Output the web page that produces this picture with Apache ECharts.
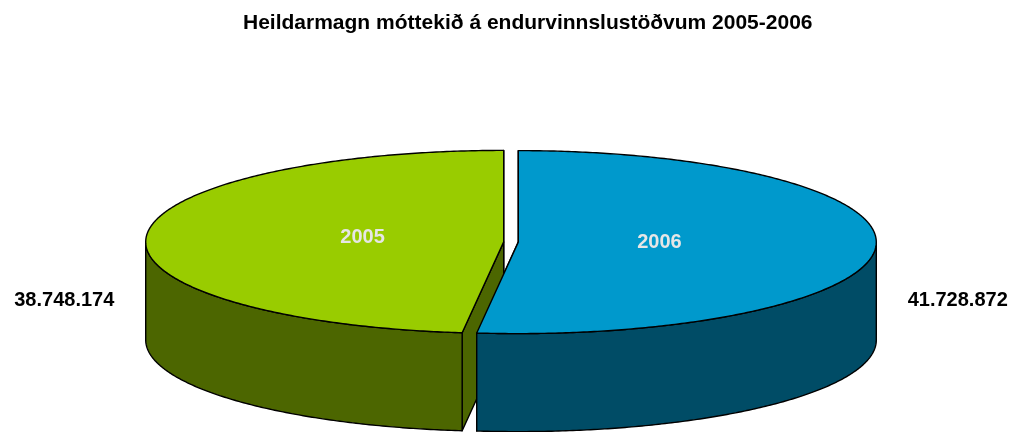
<!DOCTYPE html>
<html>
<head>
<meta charset="utf-8">
<script src="https://cdn.jsdelivr.net/npm/echarts@6/dist/echarts.min.js"></script>
<style>
  html, body { margin: 0; padding: 0; background: #fff; }
  #chart { width: 1014px; height: 432px; }
</style>
</head>
<body>
<div id="chart"></div>
<script>
// pie order: clockwise from 12 o'clock
const categories = ['2006', '2005'];
const values = [41728872, 38748174];
const topColors = ['#0099cc', '#99cc00'];
const sideColors = ['#004c66', '#4c6600'];
const titleText = 'Heildarmagn móttekið á endurvinnslustöðvum 2005-2006';

// 3d look: flat ellipse + wall
const P = { cx: 511, cy: 242, rx: 358, ry: 91.5, depth: 98, explode: 7.3 };

const total = values.reduce((a, b) => a + b, 0);
const slices = [];
let acc = 0;
values.forEach(v => {
  const a0 = acc / total * Math.PI * 2;
  acc += v;
  const a1 = acc / total * Math.PI * 2;
  slices.push({ a0: a0, a1: a1, mid: (a0 + a1) / 2 });
});

function fmt(n) {
  return String(n).replace(/\B(?=(\d{3})+(?!\d))/g, '.');
}
function center(s) {
  return [P.cx + P.explode * Math.sin(s.mid), P.cy - P.explode * P.ry / P.rx * Math.cos(s.mid)];
}
function rim(c, a, dz) {
  return [c[0] + P.rx * Math.sin(a), c[1] - P.ry * Math.cos(a) + (dz || 0)];
}
function arc(c, a0, a1, dz) {
  const n = Math.max(2, Math.ceil(Math.abs(a1 - a0) / 0.01));
  const pts = [];
  for (let k = 0; k <= n; k++) pts.push(rim(c, a0 + (a1 - a0) * k / n, dz));
  return pts;
}
const lineStyle = { stroke: '#000', lineWidth: 1.4, lineJoin: 'round' };
const FONT = 'Liberation Sans, Arial, sans-serif';

// cut faces of each slice
function renderFaces(params) {
  const i = params.dataIndex, s = slices[i], c = center(s);
  const children = [s.a0, s.a1].map(a => ({
    type: 'polygon',
    shape: { points: [c, rim(c, a), rim(c, a, P.depth), [c[0], c[1] + P.depth]] },
    style: Object.assign({ fill: sideColors[i] }, lineStyle)
  }));
  return { type: 'group', children: children };
}

// outer wall, only the front half shows
function renderWall(params) {
  const i = params.dataIndex, s = slices[i], c = center(s);
  const b0 = Math.max(s.a0, Math.PI / 2), b1 = Math.min(s.a1, Math.PI * 1.5);
  if (b1 <= b0) return { type: 'group', children: [] };
  const pts = arc(c, b0, b1, 0).concat(arc(c, b1, b0, P.depth));
  return {
    type: 'polygon',
    shape: { points: pts },
    style: Object.assign({ fill: sideColors[i] }, lineStyle)
  };
}

function renderTop(params) {
  const i = params.dataIndex, s = slices[i], c = center(s);
  const pts = [c].concat(arc(c, s.a0, s.a1, 0));
  const outer = rim(c, s.mid);
  const right = Math.sin(s.mid) > 0;
  return {
    type: 'group',
    children: [
      {
        type: 'polygon',
        shape: { points: pts },
        style: Object.assign({ fill: topColors[i] }, lineStyle)
      },
      {
        type: 'text',
        style: {
          text: categories[i],
          x: c[0] + 0.395 * P.rx * Math.sin(s.mid),
          y: c[1] - 0.395 * P.ry * Math.cos(s.mid) - 2,
          fill: '#e6e6e6',
          fontSize: 20, fontWeight: 'bold', fontFamily: FONT,
          align: 'center', verticalAlign: 'middle'
        }
      },
      {
        type: 'text',
        style: {
          text: fmt(values[i]),
          x: outer[0] + (right ? 32 : -32),
          y: P.cy + P.depth * 0.6,
          fill: '#000',
          fontSize: 20, fontWeight: 'bold', fontFamily: FONT,
          align: right ? 'left' : 'right', verticalAlign: 'middle'
        }
      }
    ]
  };
}

const chart = echarts.init(document.getElementById('chart'), null, { renderer: 'canvas' });
chart.setOption({
  animation: false,
  backgroundColor: '#fff',
  title: {
    text: titleText,
    left: 238,
    top: 8,
    textStyle: { fontSize: 21, fontWeight: 'bold', color: '#000', fontFamily: FONT }
  },
  series: [
    { type: 'custom', coordinateSystem: 'none', silent: true, z: 2, renderItem: renderFaces, data: values },
    { type: 'custom', coordinateSystem: 'none', silent: true, z: 3, renderItem: renderWall, data: values },
    { type: 'custom', coordinateSystem: 'none', silent: true, z: 4, renderItem: renderTop, data: values }
  ]
});
</script>
</body>
</html>
